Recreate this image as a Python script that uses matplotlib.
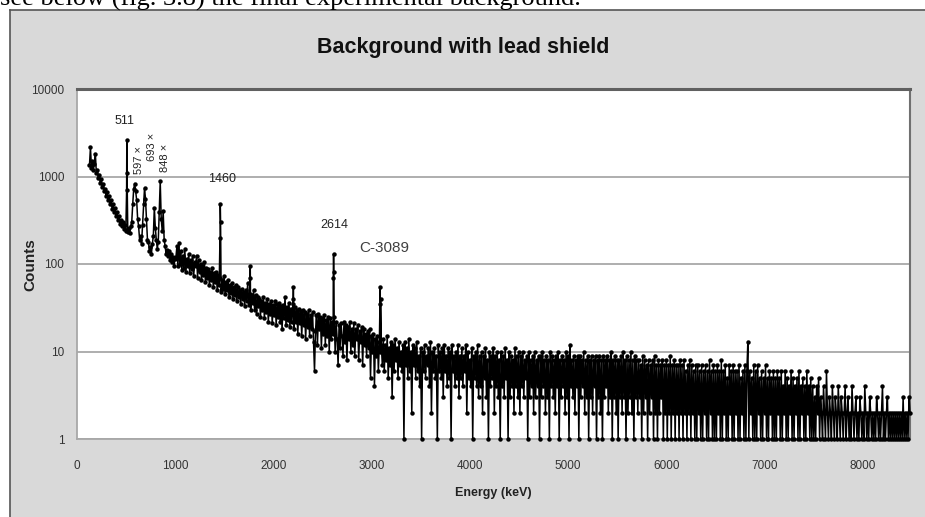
import numpy as np
import matplotlib
matplotlib.use("Agg")
import matplotlib.pyplot as plt
from matplotlib.patches import Rectangle
from matplotlib.lines import Line2D

# ---------------- data ----------------
# low-energy part, 10 keV channels starting at 130 keV
low_start, low_step = 130, 10
low_counts = [
    1350, 2150, 1250, 1500, 1200, 1400, 1800, 1100, 1200, 950,    # 130-220
    1050, 850, 940, 750, 830, 680, 720, 600, 660, 540,            # 230-320
    600, 480, 540, 430, 490, 390, 440, 350, 390, 320,             # 330-420
    350, 290, 320, 270, 300, 250, 280, 240, 2600, 230,            # 430-520
    260, 225, 270, 300, 480, 720, 830, 680, 540, 330,             # 530-620
    270, 190, 210, 170, 280, 480, 730, 560, 330, 190,             # 630-720
    180, 140, 155, 130, 170, 210, 440, 260, 190, 150,             # 730-820
    180, 390, 880, 330, 240, 400, 190, 160, 130, 145,             # 830-920
    125, 140, 110, 130, 105, 120, 95, 115,                        # 930-1000
]

# middle part, 10 keV channels starting at 1010 keV
mid_start, mid_step = 1010, 10
mid_counts = [
    120, 160, 95, 175, 100, 140, 85, 125, 90, 150, 80, 115, 95, 130, 78, 110, 88, 125, 72, 105,  # 1010-1200
    95, 125, 70, 110, 80, 100, 66, 95, 75, 105, 62, 90, 70, 88, 58, 82, 66, 90, 55, 78,          # 1210-1400
    62, 80, 50, 75, 58, 70, 48, 66, 52, 72, 45, 62, 50, 66, 42, 58, 47, 60, 40, 55,              # 1410-1600
    44, 58, 38, 54, 42, 50, 35, 52, 40, 48, 33, 50, 38, 60, 34, 46, 30, 44, 36, 50,              # 1610-1800
    30, 44, 27, 42, 33, 40, 25, 38, 30, 42, 24, 36, 28, 40, 22, 35, 27, 38, 21, 34,              # 1810-2000
    26, 38, 20, 35, 25, 36, 22, 33, 18, 34, 24, 42, 20, 32, 23, 36, 19, 31, 22, 35,              # 2010-2200
    18, 32, 22, 30, 16, 31, 21, 29, 15, 30, 20, 28, 14, 27, 19, 30, 15, 26, 18, 28,              # 2210-2400
    13, 6, 17, 26, 12, 27, 18, 25, 11, 24, 16, 26, 12, 23, 15, 25, 10, 24, 14, 22,               # 2410-2600
    16, 25, 10, 22, 14, 7, 20, 11, 21, 15, 9, 22, 13, 20, 8, 19, 14, 22, 10, 18,                 # 2610-2800
    12, 21, 9, 18, 14, 20, 8, 17, 13, 19, 7, 18, 12, 16, 9, 17, 11, 18, 5, 15,                   # 2810-3000
    10, 16, 4, 14, 9, 15, 6, 13, 10, 12,                                                         # 3010-3100
]

# high-energy tail, 10 keV channels starting at 3110 keV
high_start, high_step = 3110, 10
high_counts = [
    7, 14, 6, 12, 8, 15, 5, 11, 7, 13, 3, 12, 6, 14, 8, 11, 5, 13, 7, 10,   # 3110-3300
    6, 12, 1, 13, 7, 11, 5, 14, 6, 10, 2, 12, 7, 11, 5, 13, 6, 9, 4, 11,    # 3310-3500
    1, 10, 6, 12, 5, 9, 7, 11, 4, 13, 2, 10, 6, 11, 5, 9, 1, 12, 6, 10,     # 3510-3700
    5, 11, 3, 12, 6, 9, 4, 11, 5, 10, 1, 12, 6, 9, 4, 10, 5, 12, 3, 9,      # 3710-3900
    5, 11, 4, 9, 6, 12, 2, 10, 5, 8, 4, 11, 1, 9, 5, 10, 4, 12, 3, 9,       # 3910-4100
    4, 10, 2, 9, 5, 11, 3, 8, 1, 10, 4, 9, 5, 11, 2, 9, 4, 10, 3, 8,        # 4110-4300
    1, 10, 4, 9, 3, 11, 5, 8, 1, 10, 3, 9, 4, 8, 2, 11, 4, 9, 3, 10,        # 4310-4500
    2, 9, 4, 10, 3, 8, 5, 9, 1, 10, 3, 8, 4, 9, 2, 10, 3, 8, 4, 9,          # 4510-4700
    1, 9, 3, 10, 4, 8, 2, 9, 3, 8, 1, 10, 4, 9, 3, 8, 2, 9, 4, 10,          # 4710-4900
    1, 8, 3, 9, 4, 8, 2, 10, 3, 9, 1, 12, 4, 8, 3, 9, 2, 8, 4, 9,           # 4910-5100
    1, 9, 3, 8, 4, 10, 2, 8, 3, 9, 1, 8, 3, 9, 2, 8, 4, 9, 1, 8,            # 5110-5300
    3, 9, 2, 8, 1, 9, 3, 8, 4, 9, 2, 8, 3, 10, 1, 8, 3, 9, 2, 8,            # 5310-5500
    1, 8, 3, 9, 2, 10, 3, 8, 1, 9, 2, 8, 3, 10, 2, 8, 1, 9, 3, 8,           # 5510-5700
    2, 8, 3, 7, 1, 9, 2, 8, 3, 7, 1, 8, 2, 7, 3, 8, 1, 9, 2, 7,             # 5710-5900
    1, 8, 2, 7, 3, 8, 1, 7, 2, 8, 1, 7, 2, 9, 1, 7, 2, 8, 1, 7,             # 5910-6100
    2, 7, 1, 8, 2, 7, 1, 8, 2, 6, 1, 7, 2, 8, 1, 7, 2, 6, 1, 7,             # 6110-6300
    1, 7, 2, 6, 1, 7, 1, 6, 2, 7, 1, 6, 1, 8, 2, 6, 1, 7, 1, 6,             # 6310-6500
    1, 7, 2, 6, 1, 8, 1, 6, 2, 7, 1, 5, 1, 7, 2, 6, 1, 7, 1, 6,             # 6510-6700
    2, 6, 1, 7, 1, 5, 2, 6, 1, 7, 1, 6, 13, 1, 6, 2, 5, 1, 7, 1,            # 6710-6900
    6, 1, 7, 2, 5, 1, 6, 1, 5, 2, 7, 1, 5, 1, 6, 2, 5, 1, 6, 1,             # 6910-7100
    5, 1, 6, 2, 5, 1, 6, 1, 4, 2, 6, 1, 5, 1, 4, 2, 6, 1, 5, 1,             # 7110-7300
    4, 2, 5, 1, 6, 1, 4, 2, 5, 1, 4, 1, 6, 2, 4, 1, 5, 1, 4, 1,             # 7310-7500
    3, 1, 4, 2, 5, 1, 3, 2, 1, 4, 2, 1, 6, 2, 1, 3, 2, 1, 4, 2,             # 7510-7700
    1, 3, 2, 1, 4, 2, 1, 3, 2, 1, 2, 4, 1, 2, 3, 1, 2, 1, 4, 2,             # 7710-7900
    1, 2, 3, 1, 2, 1, 3, 2, 1, 2, 1, 4, 2, 1, 2, 1, 3, 2, 1, 2,             # 7910-8100
    1, 2, 1, 3, 2, 1, 2, 1, 2, 4, 1, 2, 1, 2, 3, 1, 2, 1, 2, 1,             # 8110-8300
    2, 1, 2, 1, 2, 1, 2, 1, 2, 1, 3, 1, 2, 1, 2, 1, 3, 2,                   # 8310-8480
]

# extra channels on the sharp peaks
peak_energy = [508, 512, 1458, 1461, 1464, 1763, 1766, 2203, 2205,
               2611, 2614, 2617, 3086, 3089, 3092]
peak_counts = [700, 1100, 200, 480, 300, 70, 95, 40, 55,
               70, 130, 80, 35, 55, 40]

# peak annotations
label_text = ["511", "597 \u00d7", "693 \u00d7", "848 \u00d7", "1460", "2614", "C-3089"]
label_x = [491, 634, 766, 900, 1478, 2617, 3130]
label_y = [4300, 1550, 2180, 1630, 935, 280, 152]
label_rot = [0, 90, 90, 90, 0, 0, 0]

x_ticks = [0, 1000, 2000, 3000, 4000, 5000, 6000, 7000, 8000]
y_ticks = [1, 10, 100, 1000, 10000]

# ---------------- assemble series ----------------
E = np.concatenate([
    low_start + low_step * np.arange(len(low_counts)),
    mid_start + mid_step * np.arange(len(mid_counts)),
    high_start + high_step * np.arange(len(high_counts)),
    np.array(peak_energy),
]).astype(float)
C = np.concatenate([low_counts, mid_counts, high_counts, peak_counts]).astype(float)
order = np.argsort(E, kind="stable")
E, C = E[order], C[order]

# ---------------- figure ----------------
W, H = 925, 517
fig = plt.figure(figsize=(W / 100, H / 100), dpi=100, facecolor="white")

sans = ["Liberation Sans", "DejaVu Sans"]

# grey chart panel
fig.patches.append(Rectangle((10 / W, 0), 1, 1 - 10 / H, transform=fig.transFigure,
                             facecolor="#d9d9d9", edgecolor="none", zorder=-5))
fig.lines.append(Line2D([10 / W, 10 / W], [0, 1 - 10 / H], transform=fig.transFigure,
                        color="#555555", lw=1.2, zorder=-4))
fig.lines.append(Line2D([10 / W, 1], [1 - 10 / H, 1 - 10 / H], transform=fig.transFigure,
                        color="#555555", lw=1.2, zorder=-4))

# page text cut off at the top
fig.text(0.0, 1 - 6 / H, "see below (fig. 3.8) the final experimental background.",
         family=["Liberation Serif", "DejaVu Serif"], fontsize=19, va="baseline",
         ha="left", color="black")

ax = fig.add_axes([76.7 / W, 1 - 439 / H, (910 - 76.7) / W, (439 - 89) / H])
ax.set_facecolor("white")
ax.set_yscale("log")
ax.set_xlim(0, 8480)
ax.set_ylim(1, 10000)

ax.plot(E, C, color="black", lw=1.1, marker="o", ms=3.2, mew=0, zorder=3, clip_on=False)

ax.set_xticks(x_ticks)
ax.set_xticklabels([str(v) for v in x_ticks], family=sans, fontsize=8.5, color="#333333")
ax.set_yticks(y_ticks)
ax.set_yticklabels([str(v) for v in y_ticks], family=sans, fontsize=8.5, color="#333333")
ax.minorticks_off()
ax.tick_params(length=0, pad=9)
ax.tick_params(axis="x", pad=15)

ax.grid(axis="y", color="#a8a8a8", lw=1.3, zorder=1)
ax.set_axisbelow(True)

for side in ("left", "bottom"):
    ax.spines[side].set_color("#a8a8a8")
    ax.spines[side].set_linewidth(1.3)
ax.spines["top"].set_color("#606060")
ax.spines["top"].set_linewidth(2.2)
ax.spines["right"].set_color("#707070")
ax.spines["right"].set_linewidth(1.5)

for t, x, y, r in zip(label_text, label_x, label_y, label_rot):
    if t.startswith("C-"):
        ax.text(x, y, t, ha="center", va="center", fontsize=11, family=sans,
                color="#404040", zorder=4)
    else:
        ax.text(x, y, t, ha="center", va="center", rotation=r,
                fontsize=9 if r == 0 else 8, family=sans,
                color="#222222", zorder=4)

fig.text(463 / W, 1 - 48 / H, "Background with lead shield", ha="center", va="center",
         fontsize=15.5, fontweight="bold", family=sans, color="#111111")
fig.text(30 / W, 1 - 265 / H, "Counts", ha="center", va="center", rotation=90,
         fontsize=11, fontweight="bold", family=sans, color="#222222")
fig.text(493 / W, 1 - 493 / H, "Energy (keV)", ha="center", va="center",
         fontsize=9, fontweight="bold", family=sans, color="#222222")

fig.savefig("out.png", dpi=100, facecolor="white")
